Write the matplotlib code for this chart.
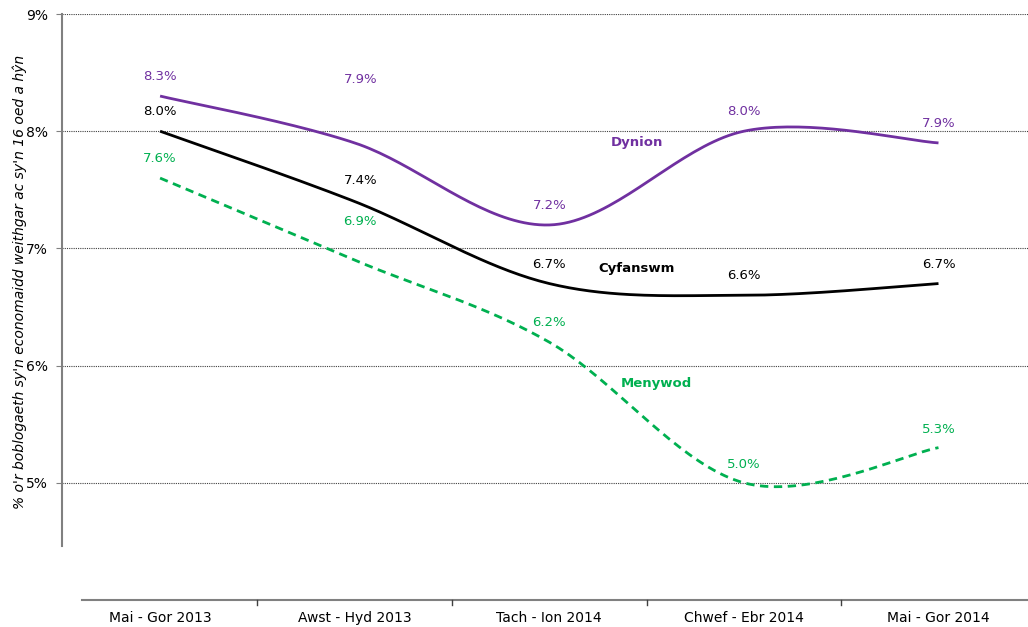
import numpy as np
import matplotlib
matplotlib.use("Agg")
import matplotlib.pyplot as plt
from matplotlib.transforms import blended_transform_factory

categories = ["Mai - Gor 2013", "Awst - Hyd 2013", "Tach - Ion 2014", "Chwef - Ebr 2014", "Mai - Gor 2014"]
dynion = [8.3, 7.9, 7.2, 8.0, 7.9]
cyfanswm = [8.0, 7.4, 6.7, 6.6, 6.7]
menywod = [7.6, 6.9, 6.2, 5.0, 5.3]
yticks = [5, 6, 7, 8, 9]
ylabel = "% o'r boblogaeth sy'n economaidd weithgar ac sy'n 16 oed a hŷn"

plt.rcParams['font.family'] = ['DejaVu Sans']

def smooth(xs, ys, n=40):
    # Bezier smoothing with Catmull-Rom style control points (like spreadsheet smoothed lines)
    xs = np.asarray(xs, float); ys = np.asarray(ys, float)
    P = np.column_stack([xs, ys])
    out = []
    for i in range(len(P) - 1):
        p0 = P[i - 1] if i > 0 else P[i]
        p1 = P[i]; p2 = P[i + 1]
        p3 = P[i + 2] if i + 2 < len(P) else P[i + 1]
        c1 = p1 + (p2 - p0) / 6.0
        c2 = p2 - (p3 - p1) / 6.0
        t = np.linspace(0, 1, n)[:, None]
        seg = (1 - t) ** 3 * p1 + 3 * (1 - t) ** 2 * t * c1 + 3 * (1 - t) * t ** 2 * c2 + t ** 3 * p2
        out.append(seg if i == 0 else seg[1:])
    seg = np.vstack(out)
    return seg[:, 0], seg[:, 1]

fig = plt.figure(figsize=(10.28, 6.27), dpi=100)
ax = fig.add_axes([62 / 1028, 1 - 600 / 627, 1 - 62 / 1028, (600 - 14) / 627])

x = np.arange(len(categories))
purple = "#7030A0"
green = "#00B050"

series = [
    (dynion, purple, "-", "Dynion"),
    (cyfanswm, "black", "-", "Cyfanswm"),
    (menywod, green, "--", "Menywod"),
]
# label offsets in points (dx, dy) per series
label_offsets = [
    [(0, 14), (4, 46), (0, 14), (0, 14), (0, 14)],
    [(0, 14), (4, 15), (0, 14), (0, 14), (0, 14)],
    [(0, 14), (4, 28), (0, 14), (0, 13), (0, 13)],
]
name_pos = [(2.45, 7.9), (2.45, 6.83), (2.55, 5.85)]

for (vals, col, ls, name), offs, npos in zip(series, label_offsets, name_pos):
    sx, sy = smooth(x, vals)
    ax.plot(sx, sy, color=col, lw=2.0, ls=ls, dashes=(3, 2) if ls == "--" else (None, None),
            solid_capstyle="butt", zorder=3)
    for xi, v, (dx, dy) in zip(x, vals, offs):
        ax.annotate(f"{v:.1f}%", (xi, v), xytext=(dx, dy), textcoords="offset points",
                    ha="center", va="center", fontsize=9.5, color=col)
    ax.text(npos[0], npos[1], name, ha="center", va="center", fontsize=9.5,
            fontweight="bold", color=col)

ax.set_xlim(-0.504, 4.46)
ax.set_ylim(4.0, 9.0)
ax.set_yticks(yticks)
ax.set_yticklabels([f"{t}%" for t in yticks], fontsize=10)
ax.yaxis.grid(True, color="#404040", linestyle=(0, (1, 1)), linewidth=0.8)
ax.set_axisbelow(True)
ax.tick_params(axis="y", length=4, color="#808080", pad=6)

for s in ["top", "right", "bottom"]:
    ax.spines[s].set_visible(False)
ax.spines["left"].set_color("#808080")
ax.spines["left"].set_linewidth(1.5)
ax.spines["left"].set_bounds(4.46, 9.0)

# category axis line with boundary ticks
ax.set_xticks([])
tr = blended_transform_factory(ax.transData, ax.transAxes)
ax.plot([-0.40, 4.46], [0, 0], transform=tr, color="#808080", lw=1.5, clip_on=False)
for b in np.arange(len(categories) - 1) + 0.5:
    ax.plot([b, b], [0, -0.009], transform=tr, color="#404040", lw=1, clip_on=False)
for xi, c in zip(x, categories):
    ax.text(xi, -0.03, c, transform=tr, ha="center", va="center", fontsize=10)

ax.set_ylabel(ylabel, fontsize=10, style="italic", labelpad=6)
ax.yaxis.set_label_coords(-0.036, 0.543)

fig.savefig("out.png", dpi=100)
